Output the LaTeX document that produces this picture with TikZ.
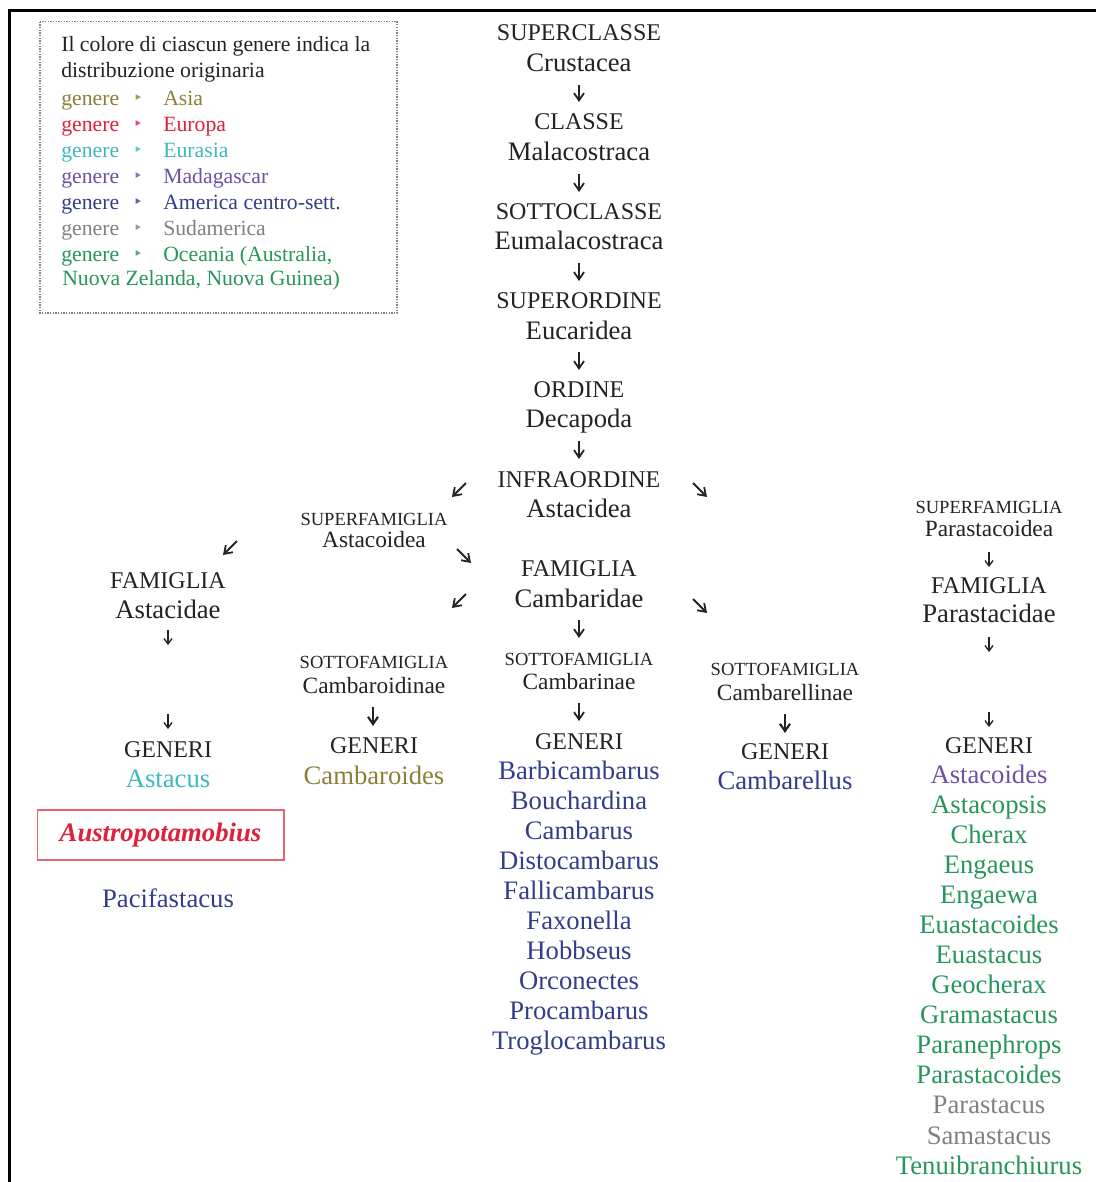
\documentclass[tikz,border=0pt]{standalone}
\usepackage{fontspec}
\setmainfont{Liberation Serif}
\newfontfamily\symfont{DejaVu Sans}
\usetikzlibrary{arrows.meta}
\definecolor{ink}{RGB}{35,35,35}
\definecolor{asia}{RGB}{140,128,55}
\definecolor{europa}{RGB}{222,32,58}
\definecolor{eurasia}{RGB}{60,185,192}
\definecolor{madag}{RGB}{110,80,165}
\definecolor{america}{RGB}{52,60,140}
\definecolor{sudam}{RGB}{128,128,134}
\definecolor{oceania}{RGB}{38,150,90}
\definecolor{boxred}{RGB}{228,100,112}
\begin{document}
\begin{tikzpicture}[x=0.75pt,y=-0.75pt,
  every node/.style={inner sep=0pt,text=ink},
  lab/.style={font=\fontsize{18}{20}\selectfont,text height=12.2pt,text depth=0pt},
  nm/.style={font=\fontsize{20}{22}\selectfont,text height=13.6pt,text depth=0pt},
  slab/.style={font=\fontsize{13.9}{15}\selectfont,text height=9.4pt,text depth=0pt},
  snm/.style={font=\fontsize{17.5}{19}\selectfont,text height=11.9pt,text depth=0pt},
  leg/.style={font=\fontsize{16.3}{17}\selectfont,anchor=west,text height=11pt,text depth=0pt},
  bul/.style={font=\symfont\fontsize{12}{12}\selectfont,text height=8pt,text depth=0pt},
  arr/.style={draw=ink,line width=1.35pt,-{Straight Barb[length=5.5pt,width=7.5pt]}},
  arrb/.style={draw=ink,line width=1.6pt,-{Straight Barb[length=5.5pt,width=7.5pt]}},
  arrs/.style={draw=ink,line width=1pt,-{Straight Barb[length=4pt,width=6pt]}},
]
\useasboundingbox (0,0) rectangle (1096,1182);
\fill[white] (0,0) rectangle (1096,1182);
% frame
\draw[line width=2.25pt,black] (9.5,1182) -- (9.5,10.5) -- (1096,10.5);

% legend
\draw[gray,line width=0.8pt,dash pattern=on 1pt off 1pt] (40,21.5) rectangle (397,313);
\node[leg] (lt1) at (61,44.5) {Il colore di ciascun genere indica la};
\node[leg] (lt2) at (61,70) {distribuzione originaria};
\foreach \reg/\c/\y [count=\i] in {Asia/asia/98,Europa/europa/124,Eurasia/eurasia/150,Madagascar/madag/176,America centro-sett./america/202,Sudamerica/sudam/228,{Oceania (Australia,}/oceania/254}{
  \node[leg,text=\c] (lg\i) at (61,\y) {genere};
  \node[bul,text=\c!80] (lb\i) at (138,\y) {‣};
  \node[leg,text=\c] (lr\i) at (163,\y) {\reg};
}
\node[leg,text=oceania] (lt3) at (62,278) {Nuova Zelanda, Nuova Guinea)};

% main column
\node[lab] (supcl) at (579,32) {SUPERCLASSE};
\node[nm] (crus) at (579,62) {Crustacea};
\node[lab] (cl) at (579,121) {CLASSE};
\node[nm] (mala) at (579,151) {Malacostraca};
\node[lab] (sotcl) at (579,211) {SOTTOCLASSE};
\node[nm] (euma) at (579,240) {Eumalacostraca};
\node[lab] (supord) at (579,300) {SUPERORDINE};
\node[nm] (euca) at (579,330) {Eucaridea};
\node[lab] (ord) at (579,389) {ORDINE};
\node[nm] (deca) at (579,418) {Decapoda};
\node[lab] (infra) at (579,479) {INFRAORDINE};
\node[nm] (astd) at (579,508) {Astacidea};
\node[lab] (famc) at (579,568) {FAMIGLIA};
\node[nm] (camb) at (579,598) {Cambaridae};
\node[slab] (sfc) at (579,659) {SOTTOFAMIGLIA};
\node[snm] (cbn) at (579,682) {Cambarinae};
\node[lab] (genc) at (579,741) {GENERI};
\foreach \t [count=\i] in {Barbicambarus,Bouchardina,Cambarus,Distocambarus,Fallicambarus,Faxonella,Hobbseus,Orconectes,Procambarus,Troglocambarus}{
  \node[nm,text=america] (cg\i) at (579,{770+30.05*(\i-1)}) {\t};
}
\foreach \a/\b [count=\i] in {85/102,174/192,263/281,352/370,441/459,620/638,703/721}{
  \coordinate (ma\i s) at (579,\a);
  \coordinate (ma\i e) at (579,\b);
  \draw[arr] (ma\i s) -- (ma\i e);
}

% superfamily Astacoidea
\node[slab] (supfa) at (374,519) {SUPERFAMIGLIA};
\node[snm] (astcd) at (374,540) {Astacoidea};
\coordinate (d1s) at (466,483); \coordinate (d1e) at (452,497);
\coordinate (d2s) at (693,483); \coordinate (d2e) at (707,497);
\coordinate (d3s) at (457,549); \coordinate (d3e) at (471,563);
\coordinate (d4s) at (237,541); \coordinate (d4e) at (223,555);
\coordinate (d5s) at (466,594); \coordinate (d5e) at (452,608);
\coordinate (d6s) at (693,599); \coordinate (d6e) at (707,613);
\foreach \i in {1,...,6}{\draw[arr] (d\i s) -- (d\i e);}

% left column: Astacidae
\node[lab] (fama) at (168,580) {FAMIGLIA};
\node[nm] (astae) at (168,609) {Astacidae};
\node[lab] (gena) at (168,749) {GENERI};
\node[nm,text=eurasia] (astacus) at (168,778) {Astacus};
\node[draw=boxred,line width=1pt,minimum width=185pt,minimum height=37.5pt,
      text=europa,font=\fontsize{20}{22}\selectfont\bfseries\itshape] (austro) at (160.5,835) {Austropotamobius};
\node[nm,text=america] (pacif) at (168,898) {Pacifastacus};
\coordinate (la1s) at (168,630); \coordinate (la1e) at (168,645);
\coordinate (la2s) at (168,714); \coordinate (la2e) at (168,729);
\draw[arrs] (la1s) -- (la1e);
\draw[arrs] (la2s) -- (la2e);

% Cambaroidinae
\node[slab] (sfco) at (374,662) {SOTTOFAMIGLIA};
\node[snm] (cbdn) at (374,686) {Cambaroidinae};
\node[lab] (genco) at (374,745) {GENERI};
\node[nm,text=asia] (cbds) at (374,775) {Cambaroides};
\coordinate (cos) at (373,707); \coordinate (coe) at (373,726);
\draw[arrb] (cos) -- (coe);

% Cambarellinae
\node[slab] (sfcl) at (785,669) {SOTTOFAMIGLIA};
\node[snm] (cbln) at (785,693) {Cambarellinae};
\node[lab] (gencl) at (785,751) {GENERI};
\node[nm,text=america] (cbls) at (785,780) {Cambarellus};
\coordinate (cls) at (785,714); \coordinate (cle) at (785,733);
\draw[arrb] (cls) -- (cle);

% right column: Parastacoidea
\node[slab] (supfp) at (989,507) {SUPERFAMIGLIA};
\node[snm] (parcd) at (989,529) {Parastacoidea};
\node[lab] (famp) at (989,585) {FAMIGLIA};
\node[nm] (parae) at (989,613) {Parastacidae};
\node[lab] (genp) at (989,745) {GENERI};
\foreach \t/\c [count=\i] in {Astacoides/madag,Astacopsis/oceania,Cherax/oceania,Engaeus/oceania,Engaewa/oceania,Euastacoides/oceania,Euastacus/oceania,Geocherax/oceania,Gramastacus/oceania,Paranephrops/oceania,Parastacoides/oceania,Parastacus/sudam,Samastacus/sudam,Tenuibranchiurus/oceania}{
  \node[nm,text=\c] (pg\i) at (989,{774+30.08*(\i-1)}) {\t};
}
\coordinate (ra1s) at (989,552); \coordinate (ra1e) at (989,567);
\coordinate (ra2s) at (989,637); \coordinate (ra2e) at (989,652);
\coordinate (ra3s) at (989,712); \coordinate (ra3e) at (989,727);
\foreach \i in {1,2,3}{\draw[arrs] (ra\i s) -- (ra\i e);}
\end{tikzpicture}
\end{document}
